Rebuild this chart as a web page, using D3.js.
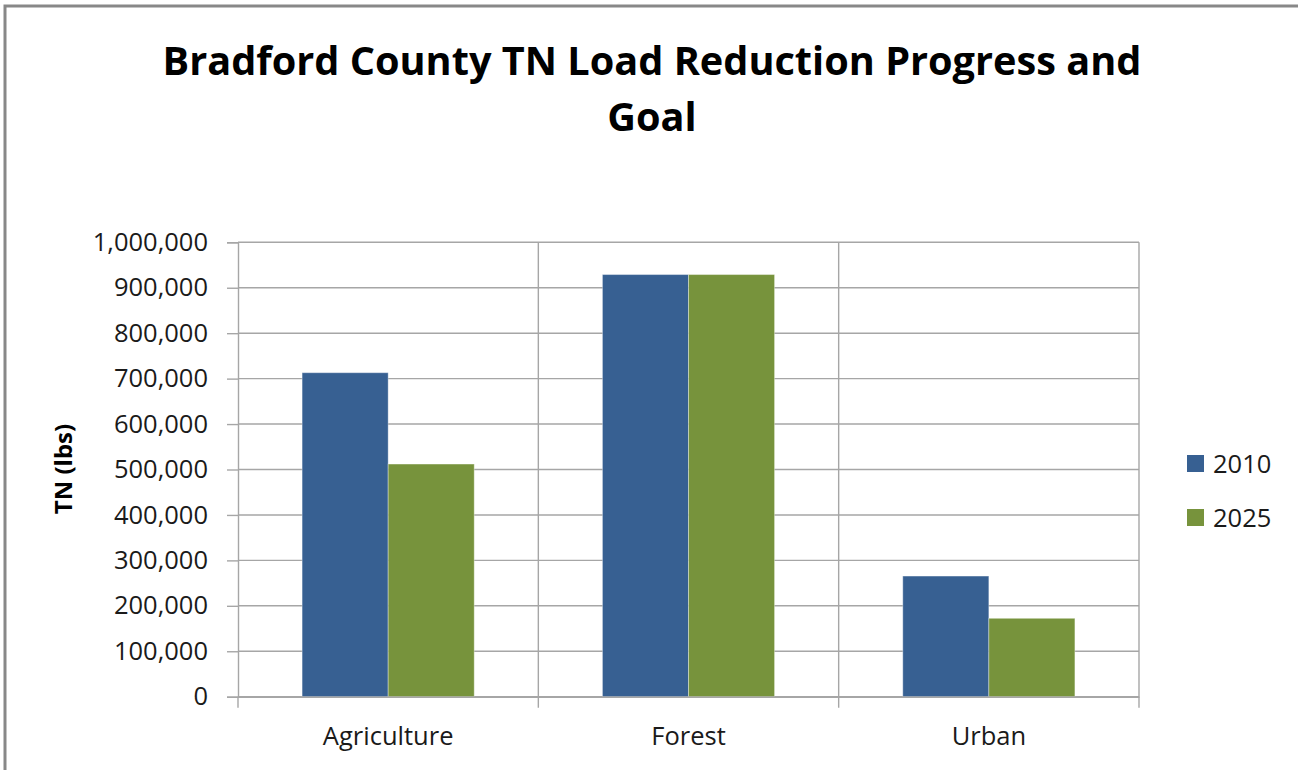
<!DOCTYPE html>
<html>
<head>
<meta charset="utf-8">
<script src="https://cdn.jsdelivr.net/npm/d3@7"></script>
<style>
  body { margin: 0; background: #fff; }
  svg { display: block; font-family: "Open Sans", sans-serif; }
</style>
</head>
<body>
<script>
// chart data
const categories = ["Agriculture", "Forest", "Urban"];
const seriesNames = ["2010", "2025"];
const values2010 = [713000, 929000, 265500];
const values2025 = [512000, 929000, 172500];
const yTicks = [0, 100000, 200000, 300000, 400000, 500000, 600000, 700000, 800000, 900000, 1000000];
const titleLines = ["Bradford County TN Load Reduction Progress and", "Goal"];

const width = 1298, height = 770;
const colors = { "2010": "#376092", "2025": "#77933c" };
const gridColor = "#a6a6a6";

const svg = d3.select("body").append("svg")
    .attr("width", width)
    .attr("height", height);

// outer chart border (only left and top edges are visible)
svg.append("rect")
    .attr("x", 5).attr("y", 6)
    .attr("width", width + 10).attr("height", height + 10)
    .attr("fill", "#fff")
    .attr("stroke", "#888")
    .attr("stroke-width", 3);

// plot area
const plot = { left: 238, right: 1139, top: 242.3, bottom: 696.7 };

const y = d3.scaleLinear()
    .domain([0, 1000000])
    .range([plot.bottom, plot.top]);

const x0 = d3.scaleBand()
    .domain(categories)
    .range([plot.left, plot.right])
    .padding(0);

const x1 = d3.scaleBand()
    .domain(seriesNames)
    .range([0, x0.bandwidth()])
    .paddingInner(0)
    .paddingOuter(0.745);

// horizontal gridlines
svg.append("g")
    .selectAll("line")
    .data(yTicks)
    .join("line")
    .attr("x1", plot.left).attr("x2", plot.right)
    .attr("y1", d => y(d)).attr("y2", d => y(d))
    .attr("stroke", gridColor)
    .attr("stroke-width", 1.4);

// vertical gridlines at category boundaries
const boundaries = categories.map(c => x0(c)).concat([x0(categories[categories.length - 1]) + x0.bandwidth()]);
svg.append("g")
    .selectAll("line")
    .data(boundaries.slice(1))
    .join("line")
    .attr("x1", d => d).attr("x2", d => d)
    .attr("y1", plot.top).attr("y2", plot.bottom + 11)
    .attr("stroke", gridColor)
    .attr("stroke-width", 1.4);

// bars
const rows = categories.map((c, i) => ({ category: c, values: [
    { key: "2010", value: values2010[i] },
    { key: "2025", value: values2025[i] }
] }));

svg.append("g")
    .selectAll("g")
    .data(rows)
    .join("g")
    .attr("transform", d => `translate(${x0(d.category)},0)`)
    .selectAll("rect")
    .data(d => d.values)
    .join("rect")
    .attr("x", d => x1(d.key))
    .attr("y", d => y(d.value))
    .attr("width", x1.bandwidth())
    .attr("height", d => y(0) - y(d.value))
    .attr("fill", d => colors[d.key])
    .attr("stroke", "rgba(255,255,255,0.35)")
    .attr("stroke-width", 1);

// y axis
const yAxis = svg.append("g")
    .attr("transform", `translate(${plot.left},0)`)
    .call(d3.axisLeft(y)
        .tickValues(yTicks)
        .tickFormat(d3.format(","))
        .tickSize(11)
        .tickPadding(19));
yAxis.select(".domain").attr("stroke", gridColor).attr("stroke-width", 1.4);
yAxis.selectAll(".tick line").attr("stroke", gridColor).attr("stroke-width", 1.4);
yAxis.selectAll(".tick text")
    .attr("font-family", "Open Sans")
    .attr("font-size", 25.5)
    .attr("fill", "#1a1a1a");

// x axis
const xAxis = svg.append("g")
    .attr("transform", `translate(0,${plot.bottom})`)
    .call(d3.axisBottom(x0).tickSize(0).tickPadding(0));
xAxis.select(".domain").attr("stroke", gridColor).attr("stroke-width", 1.4);
xAxis.selectAll(".tick text")
    .attr("font-family", "Open Sans")
    .attr("font-size", 25.5)
    .attr("fill", "#1a1a1a")
    .attr("dy", null)
    .attr("y", 48);
svg.append("line")
    .attr("x1", plot.left).attr("x2", plot.left)
    .attr("y1", plot.bottom).attr("y2", plot.bottom + 11)
    .attr("stroke", gridColor).attr("stroke-width", 1.4);

// y axis label
svg.append("text")
    .attr("transform", `translate(72,469) rotate(-90)`)
    .attr("text-anchor", "middle")
    .attr("font-size", 24)
    .attr("font-weight", "bold")
    .attr("fill", "#000")
    .text("TN (lbs)");

// title
const title = svg.append("g");
title.selectAll("text")
    .data(titleLines)
    .join("text")
    .attr("x", 652)
    .attr("y", (d, i) => 75 + i * 56)
    .attr("text-anchor", "middle")
    .attr("font-size", 38)
    .attr("font-weight", "bold")
    .attr("fill", "#000")
    .text(d => d);
// fit first line to the reference width
const firstLine = title.select("text").node();
const w = firstLine.getComputedTextLength();
title.selectAll("text").attr("font-size", 38 * 979 / w);

// legend
const legend = svg.append("g")
    .selectAll("g")
    .data(seriesNames)
    .join("g")
    .attr("transform", (d, i) => `translate(1187,${455 + i * 54})`);
legend.append("rect")
    .attr("width", 17).attr("height", 17)
    .attr("fill", d => colors[d]);
legend.append("text")
    .attr("x", 26).attr("y", 17.5)
    .attr("font-size", 25.5)
    .attr("fill", "#1a1a1a")
    .text(d => d);
</script>
</body>
</html>
